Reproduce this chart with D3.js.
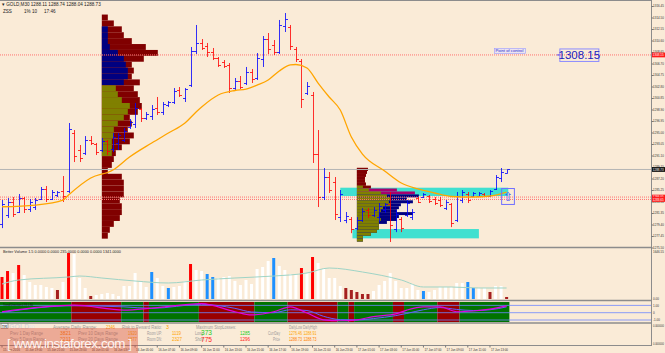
<!DOCTYPE html>
<html>
<head>
<meta charset="utf-8">
<script src="https://cdn.jsdelivr.net/npm/d3@7/dist/d3.min.js"></script>
<style>
  body { margin: 0; background: #faebd7; }
  svg { display: block; font-family: "Liberation Sans", Arial, sans-serif; }
</style>
</head>
<body>
<div id="chart"></div>
<script>
// GOLD M30 bars, 15-17 Jun 2016
var barOpen = [1279.5,1281.0,1283.2,1281.6,1283.9,1282.0,1282.4,1283.7,1285.4,1283.8,
  1284.4,1285.0,1285.0,1295.0,1292.0,1291.5,1293.8,1293.0,1292.0,1293.5,
  1292.2,1293.2,1293.8,1295.9,1296.5,1298.9,1297.4,1297.8,1299.2,1298.4,
  1299.6,1300.1,1302.2,1300.9,1303.0,1308.9,1310.2,1309.6,1308.6,1307.6,
  1306.9,1306.4,1302.6,1303.7,1303.4,1305.3,1304.3,1307.5,1310.8,1309.8,
  1308.6,1313.0,1312.9,1309.2,1307.2,1301.7,1301.3,1291.4,1284.0,1287.5,
  1286.6,1280.6,1280.1,1280.4,1278.8,1280.2,1281.8,1281.0,1280.6,1281.9,
  1282.8,1278.6,1280.4,1281.0,1280.6,1283.9,1284.0,1284.2,1283.8,1283.6,
  1282.2,1282.8,1280.2,1283.5,1284.6,1284.2,1284.3,1284.6,1284.3,1285.4,
  1287.2,1288.11];
var barHigh = [1283.55,1283.89,1284.06,1284.57,1284.06,1283.72,1283.89,1285.76,1285.93,1285.25,
  1285.08,1287.62,1296.61,1295.42,1292.88,1294.40,1294.40,1293.22,1294.07,1293.73,
  1294.91,1294.91,1295.76,1297.29,1300.00,1299.15,1298.47,1299.66,1301.02,1300.17,
  1300.34,1302.54,1302.71,1302.54,1309.50,1313.23,1310.85,1310.18,1309.33,1307.80,
  1307.29,1306.78,1304.24,1304.58,1306.11,1305.77,1308.48,1311.36,1311.87,1310.68,
  1314.08,1315.26,1313.23,1309.50,1307.46,1303.56,1301.87,1295.42,1288.98,1288.30,
  1287.45,1285.25,1281.52,1280.67,1280.67,1282.19,1282.19,1282.36,1283.04,1283.04,
  1284.91,1281.86,1280.67,1283.55,1282.02,1284.06,1284.74,1284.40,1284.06,1284.06,
  1283.55,1283.04,1284.91,1285.25,1284.91,1284.91,1284.91,1284.74,1285.25,1287.79,
  1288.98,1288.74];
var barLow = [1278.79,1280.50,1280.67,1281.35,1281.35,1281.52,1281.86,1283.55,1283.21,1283.55,
  1284.06,1283.21,1284.74,1289.99,1289.99,1291.18,1292.88,1291.18,1291.69,1291.18,
  1291.69,1292.03,1293.39,1295.59,1295.76,1296.78,1297.12,1297.12,1297.97,1297.97,
  1299.32,1299.83,1301.02,1300.17,1302.71,1308.31,1308.99,1307.80,1307.29,1306.11,
  1305.94,1301.70,1302.20,1302.37,1303.05,1303.39,1303.90,1306.11,1308.31,1308.14,
  1308.31,1312.04,1308.99,1306.95,1299.15,1301.36,1289.83,1282.36,1283.55,1284.74,
  1280.16,1279.82,1279.63,1277.93,1278.45,1279.82,1280.50,1280.67,1279.82,1281.35,
  1276.43,1278.11,1278.11,1280.67,1280.16,1283.04,1283.89,1283.04,1282.70,1282.36,
  1281.86,1278.96,1279.82,1283.04,1283.04,1284.06,1284.06,1284.06,1284.06,1285.25,
  1286.60,1288.04];
var barClose = [1282.8,1283.2,1281.2,1283.9,1282.0,1283.2,1283.5,1285.4,1283.8,1284.9,
  1284.9,1284.2,1295.6,1291.0,1290.6,1293.8,1293.2,1291.7,1293.6,1291.8,
  1294.3,1294.5,1295.3,1296.8,1299.2,1297.4,1298.1,1299.0,1298.4,1299.8,
  1300.1,1302.0,1301.4,1302.3,1308.9,1310.2,1309.4,1308.6,1307.7,1306.5,
  1306.3,1302.6,1303.7,1302.8,1305.3,1304.0,1307.7,1310.8,1309.2,1308.6,
  1313.2,1314.2,1309.6,1307.5,1300.6,1302.9,1291.4,1284.0,1287.5,1285.3,
  1281.2,1284.6,1280.9,1278.6,1280.2,1281.7,1281.0,1281.9,1282.6,1282.8,
  1279.3,1281.2,1278.8,1283.0,1281.6,1283.3,1284.5,1283.4,1283.0,1282.7,
  1283.2,1279.6,1284.3,1284.9,1283.6,1284.7,1284.8,1284.2,1285.0,1287.5,
  1288.3,1288.73];

// moving average (sampled at bar indices)
var maIndex = [0,6,11,12,16,20,23,27,30,33,35,36,39,42,44,46,48,50,52,53,55,57,59,61,63,65,69,72,75,78,81,85,88,91];
var maValue = [1282.41,1282.70,1283.55,1284.40,1287.28,1288.64,1290.84,1293.22,1294.91,1296.61,1298.47,1299.32,
  1301.36,1302.12,1302.37,1303.05,1303.90,1305.43,1306.45,1306.53,1305.94,1303.39,1301.02,1298.81,1294.23,
  1291.35,1288.47,1286.43,1285.42,1284.74,1284.15,1284.06,1284.23,1284.91];

// volume profiles
var prof1Price = [1314,1313,1312,1311,1310,1309,1308,1307,1306,1305,1304,1303,1302,1301,1300,1299,1298,1297,1296,
  1295,1294,1293,1292,1291,1290,1289,1288,1287,1286,1285,1284,1283,1282,1281,1280,1279,1278,1277];
var prof1Total = [3,6,10,11,15,22,28,21,15,16,15,19,16,18,19,20,18,14,15,13,16,14,10,7,6,5,3,10,11,11,11,9,10,10,9,6,4,3];
var prof1Inner = [0,0,3,3,3,4,8,11,12,13,13,11,7,8,10,14,13,11,8,6,6,5,5,5,0,0,0,0,0,0,0,0,0,0,0,0,0,0];
var prof1InnerType = "nnnnnnnnnnnnooooooooooooooooooooooooo ".split("");

var prof2Price = [1288.5,1288,1287.5,1287,1286.5,1286,1285.5,1285,1284.5,1284,1283.5,1283,1282.5,1282,1281.5,
  1281,1280.5,1280,1279.5,1279,1278.5,1278,1277.5,1277,1276.5];
var prof2Total = [5.5,5,4.5,4,4,4.5,7,20,29,31,25,28,22,21,20,28,21,20,15,11,11,10,7,3,3];
var prof2Inner = [5.5,5,4.5,4,4,4.5,3,6,12,15,17,16,17,13,12,11,11,12,11,11,11,10,7,3,3];
var prof2InnerType = "rrrrrroooooooooooooooooooo".split("");
var prof2OuterType = "rrrrrrrmmnnnnnnnnnnnnnnnnn".split("");

// zones
var zoneFrom = [61.0, 63.2];
var zoneTo = [91.3, 86.0];
var zoneTop = [1285.64, 1278.63];
var zoneBottom = [1284.23, 1277.05];

// volumes
var volumes = [766,974,905,1183,835,592,487,487,418,383,
  313,592,1601,1566,731,383,104,139,174,209,
  174,104,452,452,905,626,418,940,731,452,
  383,418,452,626,1218,1009,974,870,766,731,
  766,800,626,487,661,522,1044,1114,1322,1427,
  1148,1009,870,870,1079,905,1462,1253,1044,731,
  731,452,383,313,244,174,174,278,487,626,
  905,626,383,383,522,313,278,244,313,418,
  418,418,557,557,592,383,383,383,244,452,
  452,70];
var volumeType = ("rrwrwwwwww" + "dwrwwwdwww" + "wwwwwwwbww" + "bwwwrwwbbw" + "wwwwwwwwwb" +
  "wwwwrwrwww" + "wwdddddwww" + "wwwwwwbwww" + "wwwwbbwwdw" + "wd").split("");
var volMaIndex = [0,3,12,14,18,24,30,36,42,49,55,59,65,72,76,81,86,91];
var volMaValue = [522,661,766,800,731,626,557,661,731,800,905,1079,940,661,418,418,383,383];

// trend indicator
var segStart = [0,13,22,26,27,36,46,52,61,63,64,71,73,79,83];
var segEnd = [12,21,25,26,35,45,51,60,62,63,70,72,78,82,91];
var segState = ["up","dn","up","dn","up","dn","up","dn","up","dn","up","dn","up","dn","up"];
var indIndex = [0,13,22,27,36,42,45,49,52,55,58,61,64,67,71,73,76,79,82,85,88,91];
var indFast = [0.13,1.03,0.36,0.63,1.25,0.13,-0.31,0.13,0.8,-0.04,-0.97,-1.1,-0.97,-0.53,-0.17,0.36,0.8,0.8,0.13,0.23,0.49,0.93];
var indSlow = [0.05,0.95,0.8,0.6,1.15,0.6,0.1,0.0,0.4,0.3,-0.5,-0.95,-1.0,-0.8,-0.4,-0.1,0.4,0.7,0.45,0.3,0.4,0.8];

// axis labels
var priceTicks = [1316.45,1314.50,1312.55,1310.60,1308.65,1306.70,1304.75,1302.80,1300.85,1298.90,1296.95,
  1295.00,1293.05,1291.10,1289.15,1287.20,1285.25,1283.30,1281.35,1279.40,1277.45,1275.50];
var timeLabels = ["15 Jun 2016","15 Jun 19:00","15 Jun 21:00","15 Jun 23:00","16 Jun 01:00","16 Jun 03:00",
  "16 Jun 05:00","16 Jun 07:00","16 Jun 09:00","16 Jun 11:00","16 Jun 13:00","16 Jun 15:00","16 Jun 17:00",
  "16 Jun 19:00","16 Jun 21:00","16 Jun 23:00","17 Jun 01:00","17 Jun 03:00","17 Jun 05:00","17 Jun 07:00",
  "17 Jun 09:00","17 Jun 11:00","17 Jun 13:00"];

var pocPrice = 1308.15;
var bidPrice = 1288.73;
var levelPrices = [1284.05, 1283.65];

var W = 665, H = 353, axisX = 651;

var svg = d3.select("#chart").append("svg")
  .attr("width", W).attr("height", H);

svg.append("rect").attr("width", W).attr("height", H).attr("fill", "#faebd7");

var x = d3.scaleLinear().domain([0, 117]).range([2, 650.8]);
var y = d3.scaleLinear().domain([1275.5, 1316.45]).range([247.5, 6]);
var yVol = d3.scaleLinear().domain([0, 1646.55]).range([299, 251.7]);
var yInd = d3.scaleLinear().domain([-1, 1]).range([320, 305.4]);
var half = (x(1) - x(0)) / 2;

var main = svg.append("g");

// cyan zones
main.selectAll(".zone").data(zoneFrom).enter().append("rect")
  .attr("x", (d) => x(d))
  .attr("y", (d, i) => y(zoneTop[i]))
  .attr("width", (d, i) => x(zoneTo[i]) - x(d))
  .attr("height", (d, i) => y(zoneBottom[i]) - y(zoneTop[i]))
  .attr("fill", "#40e0d0");

// volume profiles
var profColors = { r: "#800000", n: "#000080", o: "#808000", m: "#a8006e" };
var profW = d3.scaleLinear().domain([0, 28]).range([0, 56]);

function drawProfile(base, prices, step, totals, inners, innerType, outerType) {
  var g = main.append("g");
  prices.forEach(function (p, i) {
    var yt = y(p + step), yb = y(p);
    g.append("rect")
      .attr("x", x(base)).attr("y", yt)
      .attr("width", profW(totals[i])).attr("height", yb - yt)
      .attr("fill", profColors[outerType ? outerType[i] : "r"]);
    if (inners[i] > 0 && innerType[i] !== " ") {
      g.append("rect")
        .attr("x", x(base)).attr("y", yt)
        .attr("width", profW(inners[i])).attr("height", yb - yt)
        .attr("fill", profColors[innerType[i]]);
    }
  });
}
drawProfile(18, prof1Price, 1, prof1Total, prof1Inner, prof1InnerType, null);
drawProfile(64, prof2Price, 0.5, prof2Total, prof2Inner, prof2InnerType, prof2OuterType);

// horizontal levels
main.append("line")
  .attr("x1", 0).attr("x2", axisX).attr("y1", y(pocPrice)).attr("y2", y(pocPrice))
  .attr("stroke", "#ff7070").attr("stroke-dasharray", "1,1");
main.selectAll(".lvl").data(levelPrices).enter().append("line")
  .attr("x1", 0).attr("x2", axisX)
  .attr("y1", (d) => y(d)).attr("y2", (d) => y(d))
  .attr("stroke", "#ff7070").attr("stroke-dasharray", "1,1");
main.append("line")
  .attr("x1", 0).attr("x2", axisX).attr("y1", y(bidPrice)).attr("y2", y(bidPrice))
  .attr("stroke", "#b4b4b4");

// OHLC bars
var bars = main.selectAll(".bar").data(barOpen).enter().append("g")
  .attr("stroke", (d, i) => barClose[i] >= d ? "#0000ff" : "#ff0000")
  .attr("stroke-opacity", 0.8);
bars.append("line")
  .attr("x1", (d, i) => Math.round(x(i)) + 0.5).attr("x2", (d, i) => Math.round(x(i)) + 0.5)
  .attr("y1", (d, i) => y(barHigh[i])).attr("y2", (d, i) => y(barLow[i]));
bars.append("line")
  .attr("x1", (d, i) => Math.round(x(i)) - 2).attr("x2", (d, i) => Math.round(x(i)) + 0.5)
  .attr("y1", (d) => Math.round(y(d)) + 0.5).attr("y2", (d) => Math.round(y(d)) + 0.5);
bars.append("line")
  .attr("x1", (d, i) => Math.round(x(i)) + 0.5).attr("x2", (d, i) => Math.round(x(i)) + 3)
  .attr("y1", (d, i) => Math.round(y(barClose[i])) + 0.5).attr("y2", (d, i) => Math.round(y(barClose[i])) + 0.5);

// moving average
main.append("path")
  .datum(maIndex)
  .attr("fill", "none").attr("stroke", "#ffa500").attr("stroke-width", 1.3)
  .attr("d", d3.line().x((d) => x(d)).y((d, i) => y(maValue[i])).curve(d3.curveMonotoneX));

// arrow box
var ab = main.append("g");
ab.append("rect")
  .attr("x", x(90.1)).attr("y", y(1285.5))
  .attr("width", x(92.4) - x(90.1)).attr("height", y(1282.8) - y(1285.5))
  .attr("fill", "none").attr("stroke", "#6f6fff");
ab.append("text")
  .attr("x", (x(90.1) + x(92.4)) / 2).attr("y", y(1282.8) - 3)
  .attr("text-anchor", "middle").attr("font-size", 12).attr("fill", "#4a4aff")
  .text("\u21e7");

// point of control labels
main.append("rect")
  .attr("x", x(88.8)).attr("y", y(pocPrice) - 6.5).attr("width", 31).attr("height", 5)
  .attr("fill", "#ece4f0").attr("stroke", "#9a9aff").attr("stroke-width", 0.6);
main.append("text")
  .attr("x", x(88.8) + 1).attr("y", y(pocPrice) - 2.5)
  .attr("font-size", 4.2).attr("fill", "#2a2ad0").text("Point of control");
main.append("rect")
  .attr("x", x(100.6)).attr("y", y(pocPrice) - 6).attr("width", 39).attr("height", 12.5)
  .attr("fill", "none").attr("stroke", "#8c8cff");
main.append("line")
  .attr("x1", x(100.6) - 3).attr("x2", x(100.6)).attr("y1", y(pocPrice)).attr("y2", y(pocPrice))
  .attr("stroke", "#5050ff");
main.append("text")
  .attr("x", x(100.6) + 19.5).attr("y", y(pocPrice) + 4.2)
  .attr("text-anchor", "middle").attr("font-size", 11.5).attr("fill", "#2020c0")
  .text(pocPrice.toFixed(2));

// header
svg.append("text").attr("x", 2).attr("y", 6).attr("font-size", 4.6).attr("fill", "#222")
  .text("\u25be GOLD,M30  1288.11 1288.74 1288.04 1288.73");
svg.append("text").attr("x", 3).attr("y", 13).attr("font-size", 4.6).attr("fill", "#222")
  .text("ZSS");
svg.append("text").attr("x", 24).attr("y", 13).attr("font-size", 4.6).attr("fill", "#222")
  .text("1% 10");
svg.append("text").attr("x", 44).attr("y", 13).attr("font-size", 4.6).attr("fill", "#222")
  .text("17:46");

// volume panel
var vol = svg.append("g");
var volColors = { w: "#ffffff", r: "#ff0000", d: "#a52020", b: "#1e90ff" };
vol.selectAll("rect").data(volumes).enter().append("rect")
  .attr("x", (d, i) => x(i) - 1.5).attr("width", 3)
  .attr("y", (d) => yVol(d)).attr("height", (d) => yVol(0) - yVol(d))
  .attr("fill", (d, i) => volColors[volumeType[i]]);
vol.append("path")
  .datum(volMaIndex)
  .attr("fill", "none").attr("stroke", "#9fd4c6").attr("stroke-width", 1)
  .attr("d", d3.line().x((d) => x(d)).y((d, i) => yVol(volMaValue[i])).curve(d3.curveMonotoneX));
vol.append("text").attr("x", 3).attr("y", 253).attr("font-size", 4).attr("fill", "#222")
  .attr("textLength", 118).attr("lengthAdjust", "spacingAndGlyphs")
  .text("Better Volume 1.5 0.0000 0.0000 235.0000 0.0000 0.0000 1341.0000");

// trend panel
var ind = svg.append("g");
ind.selectAll("rect").data(segStart).enter().append("rect")
  .attr("x", (d) => Math.max(0, x(d) - half))
  .attr("width", (d, i) => x(segEnd[i]) + half - Math.max(0, x(d) - half))
  .attr("y", 302).attr("height", 20)
  .attr("fill", (d, i) => segState[i] === "up" ? "#007300" : "#990000");
ind.selectAll(".lv").data([1, 0, -1]).enter().append("line")
  .attr("x1", 0).attr("x2", axisX).attr("y1", (d) => yInd(d)).attr("y2", (d) => yInd(d))
  .attr("stroke", "#6d86ff").attr("stroke-width", 0.8);
ind.append("path").datum(indIndex)
  .attr("fill", "none").attr("stroke", "#6060ff").attr("stroke-width", 1)
  .attr("d", d3.line().x((d) => x(d)).y((d, i) => yInd(indSlow[i])).curve(d3.curveMonotoneX));
ind.append("path").datum(indIndex)
  .attr("fill", "none").attr("stroke", "#e000e0").attr("stroke-width", 1.2)
  .attr("d", d3.line().x((d) => x(d)).y((d, i) => yInd(indFast[i])).curve(d3.curveMonotoneX));
ind.append("text").attr("x", 3).attr("y", 306).attr("font-size", 4).attr("fill", "#111")
  .attr("textLength", 30).attr("lengthAdjust", "spacingAndGlyphs")
  .text("Trend Direction 0.93 0.80");

// panel separators and axes
var frame = svg.append("g").attr("stroke", "#8c8c8c");
frame.append("line").attr("x1", 0).attr("x2", axisX).attr("y1", 0.5).attr("y2", 0.5);
[247.5, 300.5, 323].forEach(function (py) {
  frame.append("line").attr("x1", 0).attr("x2", axisX).attr("y1", py).attr("y2", py).attr("stroke-width", 1.6);
});
frame.append("line").attr("x1", 0).attr("x2", axisX).attr("y1", 345.5).attr("y2", 345.5);
frame.append("line").attr("x1", axisX + 0.5).attr("x2", axisX + 0.5).attr("y1", 0).attr("y2", 346);

var axis = svg.append("g").attr("transform", "translate(" + (axisX + 0.5) + ",0)")
  .call(d3.axisRight(y).tickValues(priceTicks).tickSize(2).tickFormat(d3.format(".2f")));
axis.select(".domain").remove();
axis.selectAll("line").attr("stroke", "#777");
axis.selectAll("text").attr("font-size", 3).attr("fill", "#333").attr("x", 1.6)
  .attr("font-family", "Liberation Sans, Arial, sans-serif");

function axisTag(py, label, bg) {
  svg.append("rect").attr("x", axisX + 1).attr("y", py - 2.4).attr("width", 13).attr("height", 4.8).attr("fill", bg);
  svg.append("text").attr("x", axisX + 1.8).attr("y", py + 1.1).attr("font-size", 3).attr("fill", "#fff").text(label);
}
axisTag(y(pocPrice), pocPrice.toFixed(2), "#ff1a1a");
axisTag(y(bidPrice), bidPrice.toFixed(2), "#111");
levelPrices.forEach(function (p) { axisTag(y(p), p.toFixed(2), "#ff1a1a"); });

var sideLabels = [[252, "1646.55"], [299, "0.00"], [305.6, "1.00"], [312.7, "0"], [320, "-1.00"], [326, "0.000000"], [344, "0.000000"]];
sideLabels.forEach(function (s) {
  svg.append("text").attr("x", axisX + 2).attr("y", s[0] + 1.1)
    .attr("font-size", s[1].length > 7 ? 2.6 : 3).attr("fill", "#333").text(s[1]);
});

// time axis
var tAxis = svg.append("g").attr("font-size", 3.6).attr("fill", "#333");
timeLabels.forEach(function (t, k) {
  var tx = x(k * 4);
  tAxis.append("line").attr("x1", tx).attr("x2", tx).attr("y1", 345.5).attr("y2", 347.5).attr("stroke", "#777");
  tAxis.append("text").attr("x", tx + 1).attr("y", 350.5)
    .attr("textLength", 17).attr("lengthAdjust", "spacingAndGlyphs").text(t);
});

// info panel
var info = svg.append("g").attr("font-size", 4.6);
info.append("rect").attr("x", 1).attr("y", 323.5).attr("width", 7).attr("height", 5).attr("fill", "#f4f4f4").attr("stroke", "#555").attr("stroke-width", 0.5);
info.append("text").attr("x", 1.8).attr("y", 327.5).attr("font-size", 4).attr("fill", "#111").text("TR");
info.append("text").attr("x", 9).attr("y", 329).attr("font-size", 7).attr("font-weight", "bold").attr("fill", "#d8d8d8").text("GOLD");
info.append("text").attr("x", 28).attr("y", 329).attr("font-size", 6).attr("fill", "#e8e8e8").text("30");

var infoRows = [
  [53, 328.5, "Average Daily Range:", "#9a9a9a", 44], [106, 328.5, "2346", "#ffa500", 9],
  [122, 328.5, "Risk to Reward Ratio:", "#9a9a9a", 40], [166, 328.5, "3", "#ffa500", 3],
  [196, 328.5, "Maximum StopLosses:", "#9a9a9a", 40],
  [10, 334.5, "Prev 1 Day Range", "#9a9a9a", 33], [60, 334.5, "3821", "#ff7f00", 11],
  [78, 334.5, "Prev 10 Days Range", "#9a9a9a", 40], [128, 334.5, "1920", "#ffa500", 9],
  [147, 334.5, "Room UP:", "#9a9a9a", 15], [172, 334.5, "1119", "#ffa500", 9],
  [195, 334.5, "Long", "#9a9a9a", 8], [240, 334.5, "1285", "#22cc22", 10],
  [10, 340.5, "Prev 5 Days Range", "#9a9a9a", 35], [60, 340.5, "2211", "#ff7f00", 11],
  [78, 340.5, "Prev 20 Days Range", "#9a9a9a", 40], [128, 340.5, "1877", "#ffa500", 9],
  [147, 340.5, "Room DN:", "#9a9a9a", 15], [172, 340.5, "2327", "#ffa500", 10],
  [195, 340.5, "Short", "#9a9a9a", 9], [240, 340.5, "1296", "#ff2020", 10],
  [289, 328.5, "DailyLow", "#9a9a9a", 13], [303, 328.5, "DailyHigh", "#9a9a9a", 14],
  [268, 334.5, "CurrDay", "#9a9a9a", 12], [289, 334.5, "1276.46", "#ffa500", 13], [303.5, 334.5, "1288.91", "#ffa500", 13],
  [273, 340.5, "Price", "#9a9a9a", 7], [289, 340.5, "1288.73", "#ff7f00", 13], [303.5, 340.5, "1288.73", "#ff7f00", 13]
];
infoRows.forEach(function (r) {
  info.append("text").attr("x", r[0]).attr("y", r[1]).attr("fill", r[3])
    .attr("textLength", r[4]).attr("lengthAdjust", "spacingAndGlyphs").text(r[2]);
});
info.append("text").attr("x", 201).attr("y", 335).attr("font-size", 7).attr("fill", "#22cc22")
  .attr("textLength", 11).attr("lengthAdjust", "spacingAndGlyphs").text("373");
info.append("text").attr("x", 201).attr("y", 341.5).attr("font-size", 7).attr("fill", "#ff2020")
  .attr("textLength", 11).attr("lengthAdjust", "spacingAndGlyphs").text("775");

// watermark
svg.append("rect").attr("x", 0).attr("y", 328).attr("width", 138).attr("height", 25)
  .attr("fill", "#d8503c").attr("fill-opacity", 0.42);
svg.append("text").attr("x", 7).attr("y", 348).attr("font-size", 13.5)
  .attr("textLength", 125).attr("fill", "#ffffff").attr("fill-opacity", 0.9)
  .text("[ www.instaforex.com ]");
</script>
</body>
</html>
